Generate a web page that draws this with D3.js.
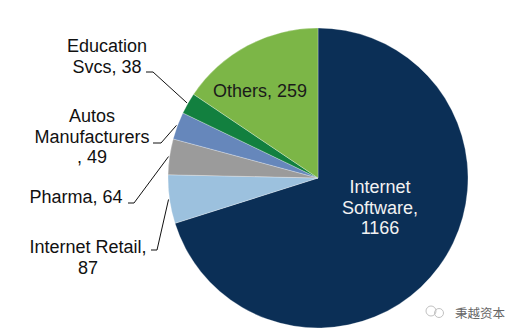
<!DOCTYPE html>
<html>
<head>
<meta charset="utf-8">
<script src="https://cdn.jsdelivr.net/npm/d3@7"></script>
<style>
html,body{margin:0;padding:0;background:#fff;}
svg{display:block;}
</style>
</head>
<body>
<svg id="chart" width="523" height="336"></svg>
<script>
// Data
const categories = ["Internet Software", "Internet Retail", "Pharma", "Autos Manufacturers", "Education Svcs", "Others"];
const values = [1166, 87, 64, 49, 38, 259];
const labelLines = [
  ["Internet", "Software,", "1166"],
  ["Internet Retail,", "87"],
  ["Pharma, 64"],
  ["Autos", "Manufacturers", ", 49"],
  ["Education", "Svcs, 38"],
  ["Others, 259"]
];
const colors = ["#0b2f56", "#9cc1de", "#9b9b9b", "#6687bb", "#12803f", "#7cb647"];

// Layout (label placement, not data)
const cx = 318, cy = 178, R = 150;
const fontSize = 18, lineH = 20.5;
const inside = [
  {x: 380, y: 193, fill: "#f2f2f2"},
  null, null, null, null,
  {x: 260, y: 97, fill: "#1a1a1a"}
];
const outside = [
  null,
  {x: 88, y: 253, tick: [151, 157, 250]},
  {x: 76, y: 203, tick: [128, 134, 203]},
  {x: 92, y: 122, tick: [153, 161, 143]},
  {x: 107, y: 52, tick: [146, 153, 72]},
  null
];

const svg = d3.select("#chart");
const g = svg.append("g").attr("transform", `translate(${cx},${cy})`);

const pie = d3.pie().sort(null).value(d => d.v);
const data = categories.map((c, i) => ({c, v: values[i], i}));
const arcs = pie(data);
const arc = d3.arc().innerRadius(0).outerRadius(R);

g.selectAll("path.slice").data(arcs).enter().append("path")
  .attr("class", "slice")
  .attr("d", arc)
  .attr("fill", d => colors[d.data.i])
  .attr("stroke", "#ffffff")
  .attr("stroke-width", 0.4)
  .attr("stroke-opacity", 0.7);

const font = "'Liberation Sans', Arial, sans-serif";

// Leader lines
arcs.forEach(a => {
  const o = outside[a.data.i];
  if (!o) return;
  const mid = (a.startAngle + a.endAngle) / 2;
  const ex = cx + (R + 1) * Math.sin(mid);
  const ey = cy - (R + 1) * Math.cos(mid);
  const [x1, x2, ty] = o.tick;
  svg.append("polyline")
    .attr("points", `${x1},${ty} ${x2},${ty} ${ex},${ey}`)
    .attr("fill", "none")
    .attr("stroke", "#111")
    .attr("stroke-width", 1);
});

// Labels
arcs.forEach(a => {
  const i = a.data.i;
  const pos = inside[i] || outside[i];
  const t = svg.append("text")
    .attr("x", pos.x).attr("y", pos.y)
    .attr("text-anchor", "middle")
    .attr("font-family", font)
    .attr("font-size", fontSize)
    .attr("fill", pos.fill || "#111");
  labelLines[i].forEach((ln, k) => {
    t.append("tspan").attr("x", pos.x).attr("y", pos.y + k * lineH).text(ln);
  });
});

// Watermark
const wm = svg.append("g").attr("opacity", 0.6);
wm.append("circle").attr("cx", 431).attr("cy", 311).attr("r", 5).attr("fill", "none").attr("stroke", "#999").attr("stroke-width", 1);
wm.append("circle").attr("cx", 439).attr("cy", 313).attr("r", 4.5).attr("fill", "none").attr("stroke", "#999").attr("stroke-width", 1);
svg.append("text").attr("x", 455).attr("y", 318)
  .attr("font-family", "'Noto Sans CJK SC', sans-serif")
  .attr("font-size", 12.5).attr("fill", "#666")
  .text("秉越资本");
</script>
</body>
</html>
